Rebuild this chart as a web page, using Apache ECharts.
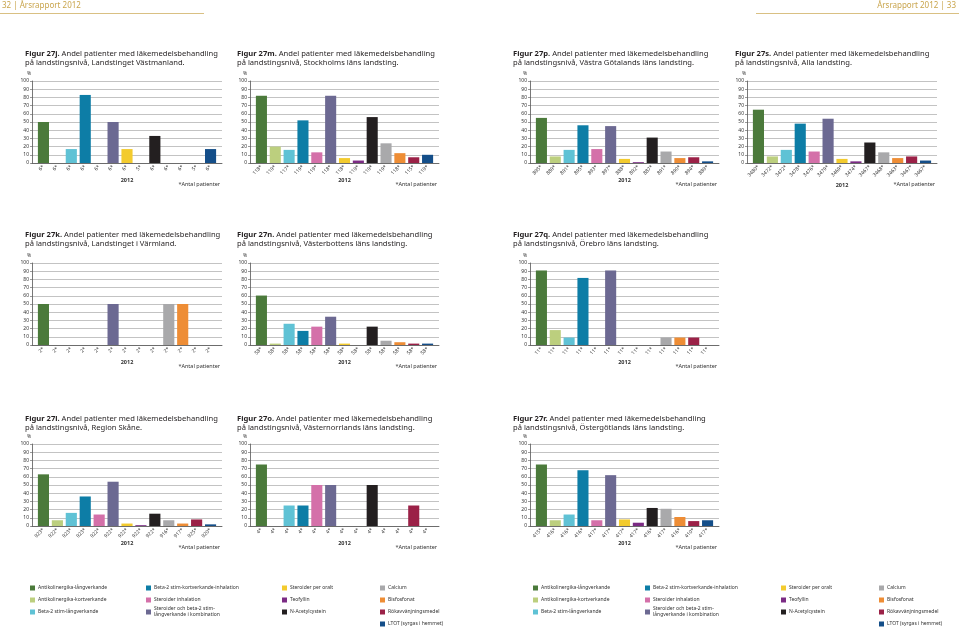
<!DOCTYPE html>
<html><head><meta charset="utf-8">
<script src="https://cdn.jsdelivr.net/npm/echarts@6/dist/echarts.min.js"></script>
<style>html,body{margin:0;padding:0;background:#fff}#c{width:959px;height:629px}</style>
</head><body><div id="c"></div>
<script>
// ---- data ----
const seriesNames = ["Antikolinergika-långverkande","Antikolinergika-kortverkande","Beta-2 stim-långverkande",
  "Beta-2 stim-kortverkande-inhalation","Steroider inhalation","Steroider och beta-2 stim-\nlångverkande i kombination",
  "Steroider per oralt","Teofyllin","N-Acetylcystein","Calcium","Bisfosfonat","Rökavvänjningsmedel","LTOT (syrgas i hemmet)"];
const seriesColors = ["#4b7a3b","#bccf7e","#5fc2d5","#0d7da6","#d470a9","#6c6992","#f3cb2e","#7b2b84","#231f20","#a9a9ab","#ee8d35","#9b2147","#144e89"];
const yearLabel = "2012";
const noteLabel = "*Antal patienter";

const jLabels = [6,6,6,6,6,6,6,5,6,6,6,5,6];
const jValues = [50,0,17,83,0,50,17,0,33,0,0,0,17];
const mLabels = [118,119,117,119,119,118,118,119,119,119,118,115,119];
const mValues = [82,20,16,52,13,82,6,3,56,24,12,7,10];
const pLabels = [895,889,891,895,893,897,888,892,887,891,890,894,889];
const pValues = [55,8,16,46,17,45,5,1,31,14,6,7,2];
const sLabels = [3480,3472,3472,3478,3476,3479,3469,3474,3467,3468,3463,3467,3467];
const sValues = [65,8,16,48,14,54,5,2,25,13,6,8,3];
const kLabels = [2,2,2,2,2,2,2,2,2,2,2,2,2];
const kValues = [50,0,0,0,0,50,0,0,0,50,50,0,0];
const nLabels = [58,58,58,58,58,58,58,58,58,58,58,58,58];
const nValues = [60.3,1.7,25.9,17.2,22.4,34.5,1.7,0,22.4,5.2,3.4,1.7,1.7];
const qLabels = [11,11,11,11,11,11,11,11,11,11,11,11,11];
const qValues = [90.9,18.2,9.1,81.8,0,90.9,0,0,0,9.1,9.1,9.1,0];
const lLabels = [923,922,923,923,922,922,922,922,922,916,917,925,920];
const lValues = [63,7,16,36,14,54,3,1,15,7,3,8,2];
const oLabels = [4,4,4,4,4,4,4,4,4,4,4,4,4];
const oValues = [75,0,25,25,50,50,0,0,50,0,0,25,0];
const rLabels = [415,416,416,416,417,417,417,417,416,417,416,410,417];
const rValues = [75,7,14,68,7,62,8,4,22,21,11,6,7];

const panels = [
  {fig:"27j", region:"Landstinget Västmanland.", labels:jLabels, values:jValues, col:0, row:0},
  {fig:"27m", region:"Stockholms läns landsting.", labels:mLabels, values:mValues, col:1, row:0},
  {fig:"27p", region:"Västra Götalands läns landsting.", labels:pLabels, values:pValues, col:2, row:0},
  {fig:"27s", region:"Alla landsting.", labels:sLabels, values:sValues, col:3, row:0, yearDy:5},
  {fig:"27k", region:"Landstinget i Värmland.", labels:kLabels, values:kValues, col:0, row:1},
  {fig:"27n", region:"Västerbottens läns landsting.", labels:nLabels, values:nValues, col:1, row:1},
  {fig:"27q", region:"Örebro läns landsting.", labels:qLabels, values:qValues, col:2, row:1},
  {fig:"27l", region:"Region Skåne.", labels:lLabels, values:lValues, col:0, row:2},
  {fig:"27o", region:"Västernorrlands läns landsting.", labels:oLabels, values:oValues, col:1, row:2},
  {fig:"27r", region:"Östergötlands läns landsting.", labels:rLabels, values:rValues, col:2, row:2}
];

// ---- layout ----
const FONT = "Noto Sans";
const colLeft = [32, 250, 530, 747];
const colWidth = [190, 189, 189, 190];
const colTitleX = [25, 237, 513, 735];
const colPctX = [27, 243, 523, 742];
const rowTop = [81, 263, 444];
const rowTitleY = [49, 230, 414];
const PH = 82;
const INNER_PAD = 4.5;

const grid=[], xAxis=[], yAxis=[], series=[], titles=[], graphic=[];
panels.forEach((p,i)=>{
  const L = colLeft[p.col], W = colWidth[p.col], T = rowTop[p.row];
  const g0 = 2*i, g1 = 2*i+1;
  // outer frame: y axis, gridlines, bottom axis line
  grid.push({left:L, top:T, width:W, height:PH});
  xAxis.push({type:'category', gridIndex:g0, data:[''], axisLabel:{show:false}, axisTick:{show:false},
    axisLine:{lineStyle:{color:'#555', width:0.8}}});
  yAxis.push({type:'value', gridIndex:g0, min:0, max:100, interval:10,
    axisLabel:{fontSize:5, color:'#333', margin:3, fontFamily:FONT},
    axisLine:{show:true, lineStyle:{color:'#555', width:0.8}},
    axisTick:{show:true, length:2, lineStyle:{color:'#555', width:0.6}},
    splitLine:{lineStyle:{color:'#9a9a9a', width:0.6}}});
  // inner band for bars and category labels
  grid.push({left:L+INNER_PAD, top:T, width:W-2*INNER_PAD, height:PH});
  xAxis.push({type:'category', gridIndex:g1, data:p.labels.map(v=>v+"*"),
    axisLabel:{rotate:45, interval:0, fontSize:5, color:'#333', margin:3, fontFamily:FONT},
    axisTick:{show:false}, axisLine:{show:false}});
  yAxis.push({type:'value', gridIndex:g1, min:0, max:100, show:false, splitLine:{show:false}});
  series.push({type:'bar', xAxisIndex:g1, yAxisIndex:g1, barCategoryGap:'20%', silent:true,
    data:p.values.map((v,k)=>({value:v, itemStyle:{color:seriesColors[k]}}))});
  titles.push({text:"{b|Figur "+p.fig+".} Andel patienter med läkemedelsbehandling\npå landstingsnivå, "+p.region,
    left:colTitleX[p.col], top:rowTitleY[p.row], padding:0,
    textStyle:{fontSize:7.6, fontWeight:'normal', color:'#231f20', fontFamily:FONT, lineHeight:9.5,
      rich:{b:{fontWeight:'bold', fontSize:7.6, fontFamily:FONT, lineHeight:9.5, color:'#231f20'}}}});
  titles.push({text:"%", left:colPctX[p.col], top:T-10, padding:0, textStyle:{fontSize:5, fontWeight:'normal', color:'#333', fontFamily:FONT}});
  graphic.push({type:'text', x:L+W/2, y:T+PH+17+(p.yearDy||0), style:{text:yearLabel, align:'center', verticalAlign:'middle', fill:'#333', font:'bold 5.5px "Noto Sans"'}});
  graphic.push({type:'text', x:L+W-2, y:T+PH+21.5, style:{text:noteLabel, align:'right', verticalAlign:'middle', fill:'#333', font:'5.5px "Noto Sans"'}});
});

// header
const gold = '#c9a54d';
graphic.push({type:'text', x:2, y:6, style:{text:"32 | Årsrapport 2012", verticalAlign:'middle', fill:gold, font:'8px "Noto Sans"'}});
graphic.push({type:'text', x:956, y:6, style:{text:"Årsrapport 2012 | 33", align:'right', verticalAlign:'middle', fill:gold, font:'8px "Noto Sans"'}});
graphic.push({type:'line', shape:{x1:0,y1:13.5,x2:204,y2:13.5}, style:{stroke:gold, lineWidth:0.7}});
graphic.push({type:'line', shape:{x1:756,y1:13.5,x2:959,y2:13.5}, style:{stroke:gold, lineWidth:0.7}});

// legend (two identical groups)
const legColsByGroup = [[30, 146, 282, 380], [533, 645, 781, 879]];
const legRows = [588, 600, 612, 624];
const legendOrder = [[0,1,2],[3,4,5],[6,7,8],[9,10,11,12]];
legColsByGroup.forEach(cols=>{
  legendOrder.forEach((col,ci)=>{
    col.forEach((si,ri)=>{
      const x = cols[ci], y = legRows[ri];
      graphic.push({type:'rect', shape:{x:x, y:y-2.5, width:5, height:5}, style:{fill:seriesColors[si]}});
      graphic.push({type:'text', x:x+8, y:y, style:{text:seriesNames[si], verticalAlign:'middle', fill:'#333', font:'5px "Noto Sans"', lineHeight:6}});
    });
  });
});

const chart = echarts.init(document.getElementById('c'), null, {renderer:'canvas'});
chart.setOption({animation:false, backgroundColor:'#fff', title:titles, grid, xAxis, yAxis, series, graphic});
</script></body></html>
